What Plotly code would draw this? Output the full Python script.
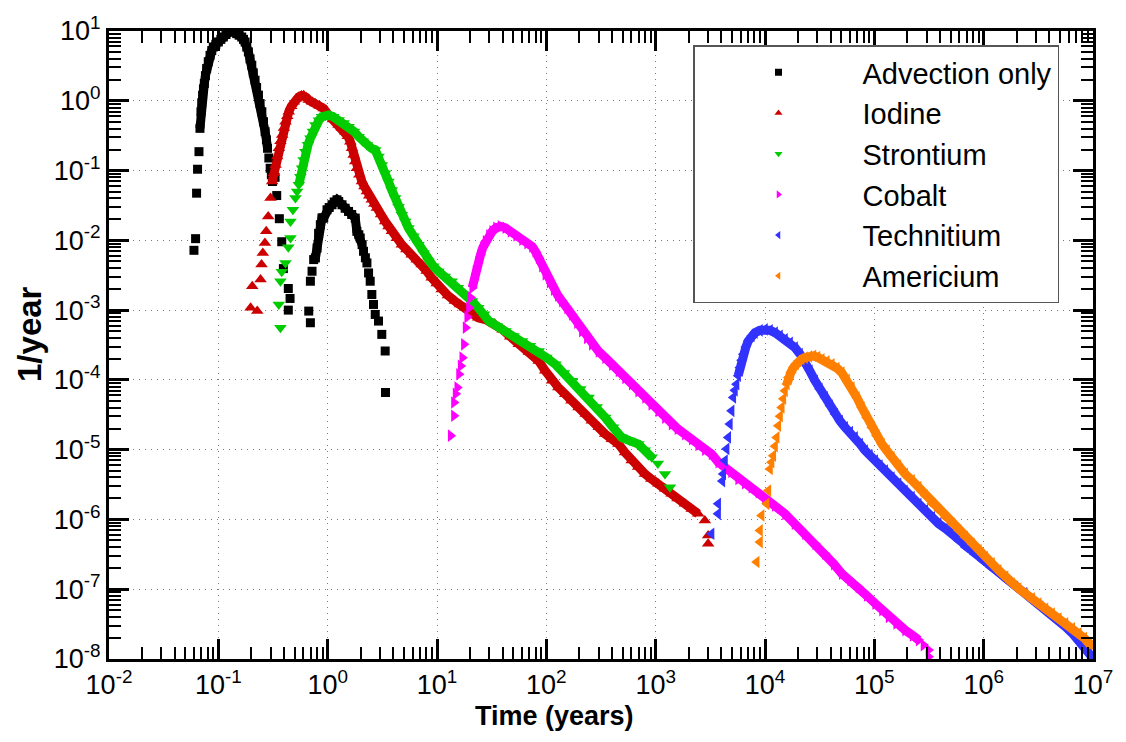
import numpy as np
import plotly.graph_objects as go

# ---------------- data (log10 of time in years, log10 of 1/year) ----------------
advection_log_t = [-1.223, -1.208, -1.199, -1.19, -1.177, -1.168, -1.159, -1.152, -1.144, -1.136,
                   -1.128, -1.118, -1.107, -1.092, -1.076, -1.06, -1.046, -1.023, -1.0, -0.977,
                   -0.954, -0.93, -0.908, -0.89, -0.872, -0.852, -0.832, -0.81, -0.786, -0.77,
                   -0.755, -0.74, -0.725, -0.71, -0.694, -0.68, -0.664, -0.65, -0.633, -0.618,
                   -0.602, -0.587, -0.572, -0.56, -0.55, -0.538, -0.526, -0.515, -0.505, -0.481,
                   -0.466, -0.442, -0.42, -0.405, -0.36, -0.344, -0.36,
                   -0.173, -0.158, -0.158, -0.143, -0.128, -0.112, -0.097, -0.083, -0.067, -0.052,
                   -0.036, -0.006, 0.014, 0.04, 0.06, 0.085, 0.101, 0.131, 0.16, 0.191, 0.22, 0.252,
                   0.267, 0.285, 0.298, 0.315, 0.328, 0.345, 0.359, 0.374, 0.389, 0.404, 0.419,
                   0.435, 0.465, 0.495, 0.526, 0.529]
advection_log_c = [-2.143, -1.976, -1.324, -0.981, -0.729, -0.395, -0.157, -0.03, 0.081, 0.17,
                   0.248, 0.36, 0.462, 0.56, 0.652, 0.72, 0.771, 0.81, 0.843, 0.88,
                   0.914, 0.95, 0.986, 1.0, 1.0, 0.985, 0.962, 0.94, 0.914, 0.88,
                   0.843, 0.77, 0.7, 0.6, 0.51, 0.4, 0.295, 0.19, 0.081, -0.04,
                   -0.157, -0.3, -0.443, -0.56, -0.681, -0.82, -0.967, -1.06, -1.157, -1.097,
                   -1.358, -1.69, -2.02, -2.405, -2.69, -2.833, -3.0,
                   -3.014, -3.181, -2.586, -2.443, -2.276, -2.252, -2.11, -1.9, -1.776, -1.681,
                   -1.681, -1.562, -1.53, -1.49, -1.45, -1.419, -1.443, -1.49, -1.54, -1.586, -1.63, -1.681,
                   -1.871, -1.92, -1.967, -2.062, -2.157, -2.25, -2.324, -2.467, -2.586, -2.776, -2.919,
                   -3.062, -3.157, -3.348, -3.586, -4.181]

iodine_log_t = [-0.705, -0.69, -0.644, -0.614, -0.605, -0.593, -0.574, -0.562, -0.544, -0.523,
                -0.508, -0.492, -0.477, -0.462, -0.447, -0.432, -0.416, -0.4, -0.386, -0.37,
                -0.356, -0.333, -0.31, -0.287, -0.264, -0.24, -0.219, -0.196, -0.173, -0.142,
                -0.112, -0.075, -0.036, 0.009, 0.05, 0.1, 0.13, 0.161, 0.185, 0.207,
                0.222, 0.237, 0.252, 0.267, 0.29, 0.313, 0.336, 0.359, 0.38, 0.404,
                0.427, 0.45, 0.488, 0.526, 0.556, 0.587, 0.632, 0.678, 0.72, 0.769,
                0.815, 0.86, 0.905, 0.951, 0.997, 1.043, 1.1, 1.164, 1.21, 1.255,
                1.31, 1.377, 1.45, 1.529, 1.6, 1.67, 1.748, 1.84, 1.93, 1.99,
                2.052, 2.11, 2.173, 2.23, 2.295, 2.36, 2.416, 2.48, 2.538, 2.6,
                2.66, 2.72, 2.781, 2.84, 2.903, 2.96, 3.024, 3.085, 3.146, 3.2,
                3.267, 3.33, 3.389, 3.45, 3.48, 3.48]
iodine_log_c = [-2.967, -2.657, -3.014, -2.562, -2.348, -2.181, -2.038, -1.871, -1.657, -1.395,
                -1.157, -1.04, -0.919, -0.8, -0.681, -0.58, -0.49, -0.39, -0.3, -0.22,
                -0.157, -0.08, -0.014, 0.03, 0.057, 0.075, 0.078, 0.05, 0.01, -0.015,
                -0.038, -0.07, -0.11, -0.205, -0.27, -0.348, -0.39, -0.443, -0.51, -0.586,
                -0.68, -0.776, -0.87, -0.967, -1.06, -1.157, -1.23, -1.3, -1.36, -1.419,
                -1.48, -1.538, -1.63, -1.729, -1.8, -1.871, -1.97, -2.062, -2.13, -2.205,
                -2.28, -2.348, -2.44, -2.538, -2.62, -2.705, -2.79, -2.871, -2.92, -2.967,
                -3.04, -3.11, -3.14, -3.2, -3.28, -3.38, -3.49, -3.6, -3.729, -3.87,
                -4.014, -4.11, -4.205, -4.3, -4.395, -4.49, -4.586, -4.68, -4.776, -4.85,
                -4.919, -5.04, -5.157, -5.25, -5.348, -5.42, -5.49, -5.56, -5.633, -5.7,
                -5.776, -5.85, -5.919, -6.014, -6.229, -6.348]

strontium_log_t = [-0.447, -0.432, -0.432, -0.42, -0.386, -0.36, -0.34, -0.34, -0.318, -0.295,
                   -0.28, -0.264, -0.25, -0.234, -0.22, -0.204, -0.18, -0.158, -0.135, -0.112,
                   -0.08, -0.052, -0.02, 0.009, 0.05, 0.1, 0.145, 0.191, 0.24, 0.283,
                   0.32, 0.359, 0.4, 0.435, 0.465, 0.495, 0.525, 0.556, 0.586, 0.617,
                   0.648, 0.678, 0.71, 0.739, 0.785, 0.83, 0.875, 0.921, 0.966, 1.012,
                   1.07, 1.134, 1.19, 1.255, 1.32, 1.377, 1.43, 1.474, 1.55, 1.626,
                   1.7, 1.778, 1.85, 1.93, 2.0, 2.082, 2.16, 2.234, 2.31, 2.386,
                   2.46, 2.538, 2.61, 2.69, 2.76, 2.842, 2.9, 2.964, 3.02, 3.085, 3.131]
strontium_log_c = [-2.919, -3.252, -2.586, -2.45, -2.324, -2.1, -1.967, -1.729, -1.56, -1.395,
                   -1.3, -1.205, -1.09, -0.967, -0.85, -0.729, -0.63, -0.538, -0.44, -0.348,
                   -0.28, -0.229, -0.21, -0.205, -0.23, -0.276, -0.32, -0.371, -0.44, -0.514,
                   -0.58, -0.633, -0.68, -0.705, -0.8, -0.919, -1.04, -1.157, -1.28, -1.395,
                   -1.52, -1.633, -1.73, -1.824, -1.94, -2.062, -2.18, -2.3, -2.37, -2.443,
                   -2.52, -2.586, -2.68, -2.776, -2.87, -2.967, -3.06, -3.157, -3.23, -3.3,
                   -3.37, -3.443, -3.51, -3.586, -3.68, -3.776, -3.9, -4.014, -4.13, -4.252,
                   -4.39, -4.538, -4.68, -4.824, -4.87, -4.919, -5.01, -5.11, -5.2, -5.348, -5.538]

cobalt_log_t = [1.125, 1.155, 1.155, 1.17, 1.185, 1.201, 1.216, 1.231, 1.246, 1.261,
                1.276, 1.292, 1.307, 1.322, 1.338, 1.353, 1.375, 1.398, 1.42, 1.444,
                1.475, 1.505, 1.54, 1.581, 1.625, 1.672, 1.725, 1.778, 1.825, 1.869,
                1.9, 1.93, 1.96, 1.991, 2.03, 2.067, 2.105, 2.143, 2.19, 2.234,
                2.28, 2.325, 2.37, 2.416, 2.477, 2.538, 2.6, 2.66, 2.72, 2.781,
                2.84, 2.903, 2.96, 3.024, 3.085, 3.146, 3.2, 3.267, 3.33, 3.389,
                3.45, 3.511, 3.573, 3.632, 3.69, 3.754, 3.815, 3.876, 3.94, 4.0,
                4.09, 4.183, 4.27, 4.366, 4.46, 4.55, 4.63, 4.702, 4.78, 4.855,
                4.93, 5.008, 5.07, 5.13, 5.2, 5.282, 5.35, 5.405, 5.45, 5.496, 5.496]
cobalt_log_c = [-4.8, -4.514, -4.324, -4.2, -4.11, -3.919, -3.8, -3.681, -3.49, -3.252,
                -3.1, -2.967, -2.82, -2.681, -2.56, -2.443, -2.32, -2.205, -2.1, -2.014,
                -1.93, -1.871, -1.82, -1.8, -1.82, -1.871, -1.93, -1.99, -2.04, -2.086,
                -2.16, -2.252, -2.37, -2.49, -2.6, -2.705, -2.79, -2.871, -2.97, -3.062,
                -3.18, -3.3, -3.4, -3.49, -3.59, -3.681, -3.78, -3.871, -3.97, -4.062,
                -4.16, -4.252, -4.35, -4.443, -4.54, -4.633, -4.7, -4.776, -4.85, -4.93,
                -5.0, -5.062, -5.18, -5.252, -5.32, -5.42, -5.48, -5.538, -5.61, -5.681,
                -5.8, -5.919, -6.06, -6.205, -6.35, -6.49, -6.64, -6.776, -6.87, -6.967,
                -7.09, -7.205, -7.3, -7.395, -7.49, -7.586, -7.66, -7.729, -7.8, -7.871, -7.967]

technitium_log_t = [3.511, 3.571, 3.572, 3.61, 3.618, 3.634, 3.649, 3.664, 3.679, 3.695,
                    3.71, 3.725, 3.74, 3.755, 3.771, 3.786, 3.802, 3.825, 3.847, 3.878,
                    3.908, 3.954, 4.0, 4.046, 4.092, 4.137, 4.183, 4.229, 4.275, 4.32,
                    4.366, 4.41, 4.458, 4.5, 4.55, 4.595, 4.641, 4.687, 4.733, 4.78,
                    4.824, 4.87, 4.916, 4.96, 5.008, 5.05, 5.099, 5.16, 5.221, 5.28,
                    5.344, 5.405, 5.466, 5.53, 5.588, 5.65, 5.71, 5.77, 5.832, 5.91,
                    5.985, 6.06, 6.137, 6.21, 6.29, 6.37, 6.443, 6.52, 6.595, 6.67,
                    6.748, 6.81, 6.87, 6.92, 6.962, 6.99]
technitium_log_c = [-6.205, -5.919, -5.776, -5.45, -5.348, -5.157, -4.99, -4.824, -4.633, -4.443,
                    -4.252, -4.15, -4.062, -3.94, -3.824, -3.72, -3.633, -3.53, -3.443, -3.37,
                    -3.324, -3.29, -3.276, -3.29, -3.324, -3.37, -3.419, -3.47, -3.538, -3.63,
                    -3.729, -3.87, -4.014, -4.13, -4.252, -4.37, -4.49, -4.59, -4.681, -4.75,
                    -4.824, -4.92, -5.014, -5.085, -5.157, -5.23, -5.3, -5.4, -5.49, -5.59,
                    -5.681, -5.78, -5.871, -5.97, -6.062, -6.13, -6.205, -6.3, -6.395, -6.49,
                    -6.586, -6.68, -6.776, -6.87, -6.967, -7.06, -7.157, -7.25, -7.348, -7.44,
                    -7.538, -7.63, -7.729, -7.82, -7.919, -7.97]

americium_log_t = [3.924, 3.954, 3.954, 3.969, 4.015, 4.031, 4.046, 4.06, 4.076, 4.092,
                   4.107, 4.122, 4.138, 4.153, 4.168, 4.183, 4.2, 4.214, 4.237, 4.26,
                   4.283, 4.305, 4.335, 4.366, 4.405, 4.443, 4.48, 4.519, 4.565, 4.611,
                   4.656, 4.702, 4.75, 4.794, 4.84, 4.885, 4.93, 4.977, 5.02, 5.069,
                   5.115, 5.16, 5.22, 5.282, 5.345, 5.405, 5.466, 5.527, 5.59, 5.649,
                   5.71, 5.771, 5.83, 5.893, 5.955, 6.015, 6.076, 6.137, 6.2, 6.26,
                   6.32, 6.382, 6.443, 6.504, 6.565, 6.626, 6.687, 6.748, 6.81, 6.87,
                   6.92, 6.962, 6.99]
americium_log_c = [-6.61, -6.324, -6.157, -5.943, -5.776, -5.586, -5.276, -5.18, -5.086, -4.95,
                   -4.824, -4.657, -4.52, -4.395, -4.27, -4.157, -4.06, -3.967, -3.89, -3.824,
                   -3.77, -3.729, -3.7, -3.681, -3.665, -3.657, -3.675, -3.705, -3.735, -3.776,
                   -3.83, -3.895, -4.0, -4.11, -4.25, -4.395, -4.54, -4.681, -4.8, -4.919,
                   -5.015, -5.11, -5.23, -5.348, -5.44, -5.538, -5.66, -5.776, -5.87, -5.967,
                   -6.06, -6.157, -6.25, -6.348, -6.44, -6.538, -6.63, -6.729, -6.82, -6.919,
                   -6.99, -7.062, -7.13, -7.205, -7.28, -7.348, -7.42, -7.49, -7.56, -7.633,
                   -7.7, -7.776, -7.8]

series_names = ["Advection only", "Iodine", "Strontium", "Cobalt", "Technitium", "Americium"]

x_tick_exponents = [-2, -1, 0, 1, 2, 3, 4, 5, 6, 7]
y_tick_exponents = [-8, -7, -6, -5, -4, -3, -2, -1, 0, 1]
x_tick_labels = ["10<sup>-2</sup>", "10<sup>-1</sup>", "10<sup>0</sup>", "10<sup>1</sup>",
                 "10<sup>2</sup>", "10<sup>3</sup>", "10<sup>4</sup>", "10<sup>5</sup>",
                 "10<sup>6</sup>", "10<sup>7</sup>"]
y_tick_labels = ["10<sup>-8</sup>", "10<sup>-7</sup>", "10<sup>-6</sup>", "10<sup>-5</sup>",
                 "10<sup>-4</sup>", "10<sup>-3</sup>", "10<sup>-2</sup>", "10<sup>-1</sup>",
                 "10<sup>0</sup>", "10<sup>1</sup>"]

# ---------------- styling ----------------
styles = {
    "Advection only": dict(symbol="square", color="#000000", size=9),
    "Iodine": dict(symbol="triangle-up", color="#CC0000", size=11),
    "Strontium": dict(symbol="triangle-down", color="#00CC00", size=11),
    "Cobalt": dict(symbol="triangle-right", color="#FF00FF", size=11),
    "Technitium": dict(symbol="triangle-left", color="#3333FF", size=11),
    "Americium": dict(symbol="triangle-left", color="#FF8000", size=11),
}
# ranges (log10 time) where markers are so dense they merge into a band
bands = {
    "Advection only": [(-1.17, -0.55), (-0.13, 0.32)],
    "Iodine": [(-0.51, 3.39)],
    "Strontium": [(-0.27, 2.97)],
    "Cobalt": [(1.32, 5.41)],
    "Technitium": [(3.75, 7.0)],
    "Americium": [(4.2, 7.0)],
}

data = {
    "Advection only": (advection_log_t, advection_log_c),
    "Iodine": (iodine_log_t, iodine_log_c),
    "Strontium": (strontium_log_t, strontium_log_c),
    "Cobalt": (cobalt_log_t, cobalt_log_c),
    "Technitium": (technitium_log_t, technitium_log_c),
    "Americium": (americium_log_t, americium_log_c),
}

FONT = "Arial, 'Liberation Sans', sans-serif"
fig = go.Figure()

for name in series_names:
    lt, lc = np.array(data[name][0]), np.array(data[name][1])
    st = styles[name]
    for (a, b) in bands[name]:
        m = (lt >= a) & (lt <= b)
        fig.add_trace(go.Scatter(x=10 ** lt[m], y=10 ** lc[m], mode="lines",
                                 line=dict(color=st["color"], width=9),
                                 showlegend=False, hoverinfo="skip"))
    fig.add_trace(go.Scatter(x=10 ** lt, y=10 ** lc, mode="markers", name=name,
                             marker=dict(symbol=st["symbol"], color=st["color"], size=st["size"],
                                         line=dict(width=0)),
                             showlegend=False))

# legend entries (smaller symbols, as in the original legend)
for name in series_names:
    st = styles[name]
    fig.add_trace(go.Scatter(x=[None], y=[None], mode="markers", name=name,
                             marker=dict(symbol=st["symbol"], color=st["color"], size=7,
                                         line=dict(width=0))))

axis_common = dict(
    type="log", showline=True, linewidth=3, linecolor="black", mirror="allticks",
    ticks="inside", ticklen=20, tickwidth=3, tickcolor="black",
    tickfont=dict(family=FONT, size=27, color="black"),
    showgrid=True, gridcolor="#7a7a7a", griddash="1px,5px", gridwidth=1, zeroline=False,
)

minor_vals_x = [m * 10.0 ** e for e in x_tick_exponents[:-1] for m in range(2, 10)]
minor_vals_y = [m * 10.0 ** e for e in y_tick_exponents[:-1] for m in range(2, 10)]

fig.update_xaxes(range=[-2, 7], tickmode="array", tickvals=[10.0 ** e for e in x_tick_exponents],
                 ticktext=x_tick_labels,
                 minor=dict(tickmode="array", tickvals=minor_vals_x, ticks="inside", ticklen=12,
                            tickwidth=1.5, tickcolor="black", showgrid=False),
                 **axis_common)
fig.update_yaxes(range=[-8, 1], tickmode="array", tickvals=[10.0 ** e for e in y_tick_exponents],
                 ticktext=y_tick_labels,
                 minor=dict(tickmode="array", tickvals=minor_vals_y, ticks="inside", ticklen=12,
                            tickwidth=1.5, tickcolor="black", showgrid=False),
                 **axis_common)

fig.update_layout(
    width=1126, height=742,
    margin=dict(l=109, r=33, t=28, b=83),
    paper_bgcolor="white", plot_bgcolor="white",
    font=dict(family=FONT, color="black"),
    legend=dict(x=0.5935, y=0.977, xanchor="left", yanchor="top",
                bgcolor="white", bordercolor="#555555", borderwidth=1.5,
                font=dict(family=FONT, size=29, color="black"),
                itemwidth=158, tracegroupgap=0),
    annotations=[
        dict(text="<b>Time (years)</b>", xref="paper", yref="paper", x=0.453, y=-0.09,
             xanchor="center", yanchor="middle", showarrow=False,
             font=dict(family=FONT, size=27, color="black")),
        dict(text="<b>1/year</b>", xref="paper", yref="paper", x=-0.081, y=0.518,
             xanchor="center", yanchor="middle", showarrow=False, textangle=-90,
             font=dict(family=FONT, size=33, color="black")),
    ],
)

fig.write_html("out.html")
